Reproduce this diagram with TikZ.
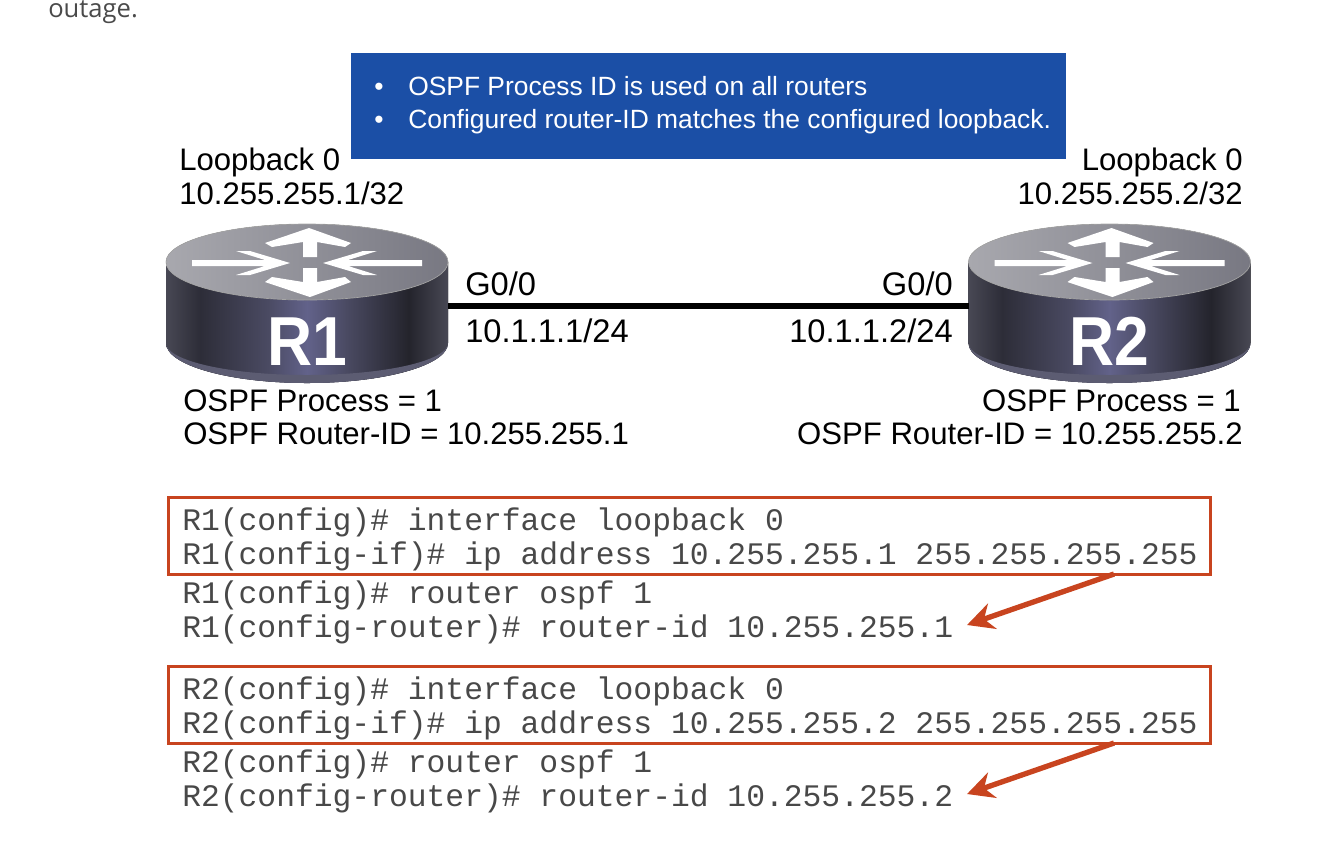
\documentclass[tikz,border=0pt]{standalone}
\usepackage{fontspec}
\usepackage{graphicx}
\setmainfont{Liberation Sans}
\setmonofont{Liberation Mono}
\newfontfamily\pagefont{Open Sans}
\usetikzlibrary{arrows.meta,positioning}
\definecolor{bannerblue}{HTML}{1B4FA6}
\definecolor{cfgred}{HTML}{C8441F}
\definecolor{cfggray}{HTML}{484848}
\definecolor{pagegray}{HTML}{4A4A4A}
\definecolor{rside}{HTML}{484854}
\definecolor{rdark}{HTML}{2D2D38}
\definecolor{rmid}{HTML}{4A4A62}
\definecolor{rglow}{HTML}{62628A}
\definecolor{rblack}{HTML}{24242C}
\definecolor{rlip}{HTML}{5C5C72}
\definecolor{rtopl}{HTML}{A8A8AE}
\definecolor{rtopr}{HTML}{787882}
\pgfdeclarehorizontalshading{routerface}{100bp}{color(0bp)=(rside);color(25bp)=(rside);color(31bp)=(rdark);color(43bp)=(rmid);color(50bp)=(rglow);color(57bp)=(rmid);color(68bp)=(rblack);color(75bp)=(rside);color(100bp)=(rside)}
\tikzset{
 lbl/.style={inner sep=0pt,font=\fontsize{23.35}{28}\selectfont},
 portlbl/.style={inner sep=0pt,font=\fontsize{24.5}{28}\selectfont},
 bannertxt/.style={inner sep=0pt,text=white,font=\fontsize{19.8}{24}\selectfont},
 cfgline/.style={inner sep=0pt,anchor=base west,text=cfggray,font=\ttfamily\fontsize{23.5}{28}\selectfont},
 cfgbox/.style={draw=cfgred,line width=2.25pt,inner sep=0pt,minimum width=781.5pt,minimum height=57.75pt},
 cfgarrow/.style={draw=cfgred,line width=4pt,-{Stealth[length=20pt,width=20pt]}},
 routerbody/.pic={
  \fill[shading=routerface,shading angle=0] (-141,0)--(-141,81) arc[start angle=180,end angle=0,x radius=141,y radius=40]--(141,0)--cycle;
  \fill[rlip] (-141,81) arc[start angle=180,end angle=0,x radius=141,y radius=40] arc[start angle=0,end angle=180,x radius=141,y radius=32]--cycle;
  \fill[left color=rtopl,right color=rtopr,draw=gray!70,line width=.5pt] (0,0) ellipse[x radius=141,y radius=38];
  \fill[white] (2,-34)--(44,-19)--(38,-15)--(10,-20)--(10,-5)--(-4,-5)--(-4,-20)--(-35,-15)--(-42,-19)--cycle;
  \fill[white] (3,35)--(44,20)--(38,15)--(10,20)--(10,6)--(-4,6)--(-4,20)--(-35,15)--(-42,20)--cycle;
  \fill[white] (-17,1)--(-57,-11)--(-71,-11)--(-42,-2)--(-115,-2)--(-115,4)--(-42,4)--(-71,13)--(-57,13)--cycle;
  \fill[white] (16,1)--(56,-11)--(70,-11)--(41,-2)--(115,-2)--(115,4)--(41,4)--(70,13)--(56,13)--cycle;
  \coordinate (-east) at (141,44);
  \coordinate (-west) at (-141,44);
  \node[inner sep=0pt,anchor=base,text=white,font=\bfseries\fontsize{52}{54}\selectfont] (-name) at (0,103) {\scalebox{.9}[1]{#1}};
 }
}
\begin{document}
\begin{tikzpicture}[x=.75pt,y=-.75pt,>=Stealth]
\useasboundingbox (0,0) rectangle (1334,840);
\node[inner sep=0pt,anchor=base west,text=pagegray,font=\pagefont\fontsize{19.2}{24}\selectfont] (outage) at (48,17) {outage.};
\node[fill=bannerblue,inner sep=0pt,minimum width=536.25pt,minimum height=79.5pt] (banner) at (708.5,106) {};
\foreach \y/\txt/\nm in {95/OSPF Process ID is used on all routers/a,128.5/Configured router-ID matches the configured loopback./b} {
 \node[bannertxt,anchor=base] (dot\nm) at (379,\y) {•};
 \node[bannertxt,anchor=base west] (ban\nm) at (408,\y) {\txt};
}
\pic (R1) at (307,262) {routerbody=R1};
\pic (R2) at (1109.5,262) {routerbody=R2};
\draw[black,line width=4.5pt] (R1-east)--(R2-west);
\foreach \x/\y/\an/\txt/\nm in {179/170/west/Loopback 0/loa,179/204/west/10.255.255.1\slash 32/lob,1243/170/east/Loopback 0/loc,1243/204/east/10.255.255.2\slash 32/lod,
 183/411/west/OSPF Process = 1/oa,183/444/west/OSPF Router-ID = 10.255.255.1/ob,1241/411/east/OSPF Process = 1/oc,1243/444/east/OSPF Router-ID = 10.255.255.2/od} {
 \node[lbl,anchor=base \an] (\nm) at (\x,\y) {\txt};
}
\foreach \x/\y/\an/\txt/\nm in {465/295/west/G0\slash 0/ga,465/342/west/10.1.1.1\slash 24/gb,953/295/east/G0\slash 0/gc,953/342/east/10.1.1.2\slash 24/gd} {
 \node[portlbl,anchor=base \an] (\nm) at (\x,\y) {\txt};
}
\node[cfgbox] (box1) at (689.75,535.5) {};
\node[cfgbox] (box2) at (689.75,704.5) {};
\foreach \n/\off in {1/0,2/169} {
 \node[cfgline] (cfg\n a) at (182,530+\off) {R\n(config)\# interface loopback 0};
 \node[cfgline] (cfg\n b) at (182,564+\off) {R\n(config-if)\# ip address 10.255.255.\n\ 255.255.255.255};
 \node[cfgline] (cfg\n c) at (182,603+\off) {R\n(config)\# router ospf 1};
 \node[cfgline] (cfg\n d) at (182,637+\off) {R\n(config-router)\# router-id 10.255.255.\n};
 \coordinate (from\n) at (1114,574+\off);
 \coordinate (to\n) at (967,625+\off);
 \draw[cfgarrow] (from\n)--(to\n);
}
\end{tikzpicture}
\end{document}
